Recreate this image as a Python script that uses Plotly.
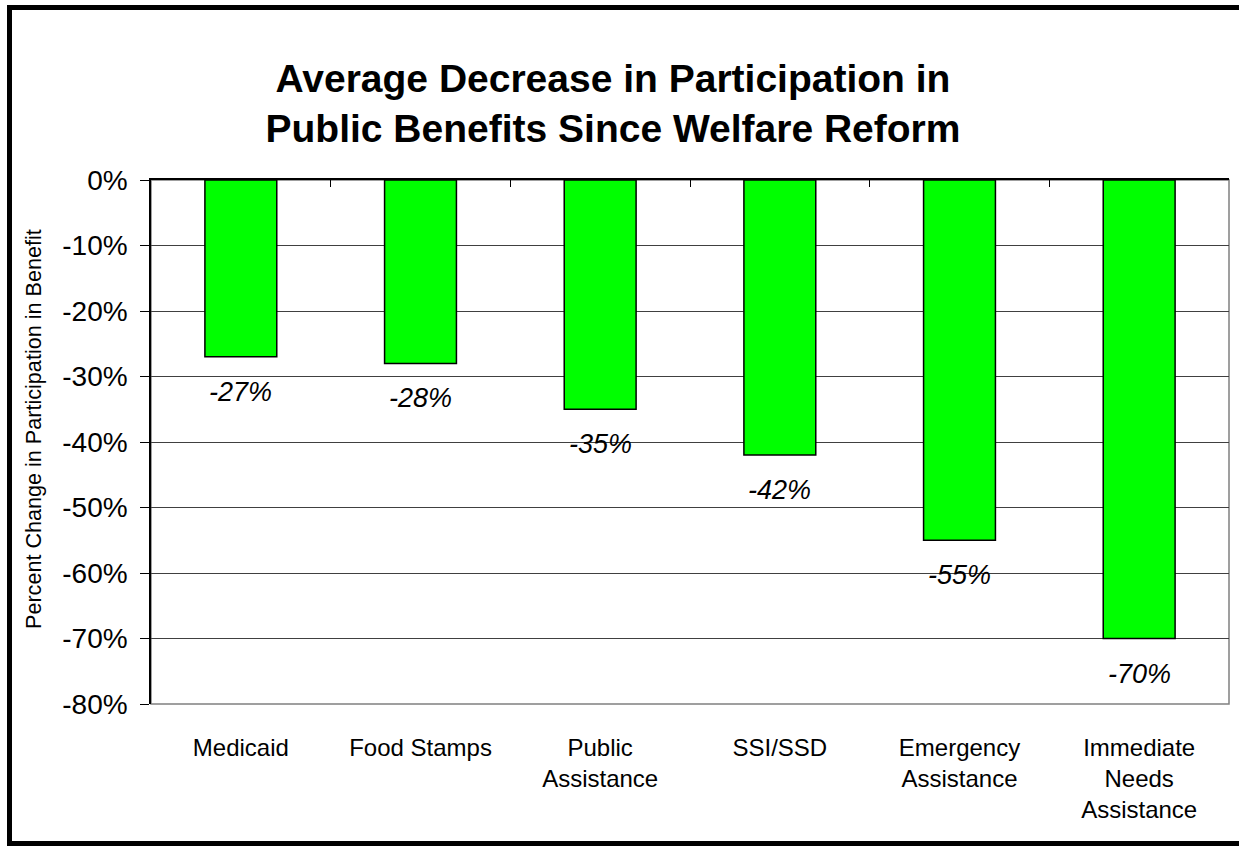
import plotly.graph_objects as go

categories = ["Medicaid", "Food Stamps", "Public<br>Assistance", "SSI/SSD",
              "Emergency<br>Assistance", "Immediate<br>Needs<br>Assistance"]
values = [-27, -28, -35, -42, -55, -70]
labels = ["-27%", "-28%", "-35%", "-42%", "-55%", "-70%"]
y_ticks = [0, -10, -20, -30, -40, -50, -60, -70, -80]

W, H = 1239, 846
L, R, T, B = 151, 10, 180, 142
pw, ph = W - L - R, H - T - B

def px_x(p):
    return (p - L) / pw

def px_y(p):
    return (H - B - p) / ph

FONT = "Arial, 'Liberation Sans', sans-serif"

fig = go.Figure()
fig.add_trace(go.Bar(
    x=categories, y=values, width=0.4,
    marker=dict(color="#00FF00", line=dict(color="black", width=1.5)),
    showlegend=False, hoverinfo="skip",
))
# helper trace so the top axis (category boundary ticks) is drawn
fig.add_trace(go.Scatter(x=[0, 5], y=[0, 0], xaxis="x2", mode="markers",
                         marker=dict(opacity=0), showlegend=False, hoverinfo="skip"))

for c, v, t in zip(categories, values, labels):
    fig.add_annotation(x=c, y=v, text="<i>" + t + "</i>", showarrow=False,
                       yanchor="middle", yshift=-35,
                       font=dict(family=FONT, size=27, color="black"))

fig.add_annotation(xref="paper", yref="paper", x=px_x(33), y=px_y(429),
                   text="Percent Change in Participation in Benefit", textangle=-90,
                   showarrow=False, xanchor="center", yanchor="middle",
                   font=dict(family=FONT, size=21.6, color="black"))

fig.update_layout(
    width=W, height=H,
    margin=dict(l=L, r=R, t=T, b=B, autoexpand=False),
    paper_bgcolor="white", plot_bgcolor="white",
    title=dict(text="<b>Average Decrease in Participation in<br>Public Benefits Since Welfare Reform</b>",
               x=613 / W, xanchor="center", xref="container",
               y=1 - 91.5 / H, yanchor="middle", yref="container",
               font=dict(family=FONT, size=39, color="black")),
    xaxis=dict(type="category", showline=False, ticks="", showgrid=False,
               tickfont=dict(family=FONT, size=24, color="black"),
               ticklabelstandoff=27, range=[-0.5, 5.5]),
    xaxis2=dict(overlaying="x", side="top", anchor="y", range=[-0.5, 5.5],
                tickvals=[0.5, 1.5, 2.5, 3.5, 4.5], ticks="inside", ticklen=7,
                tickcolor="black", tickwidth=1, showline=True, linecolor="black",
                linewidth=1.5, showticklabels=False, showgrid=False, zeroline=False),
    yaxis=dict(range=[-80, 0], tickvals=y_ticks,
               ticktext=[f"{v}%" for v in y_ticks],
               ticks="outside", ticklen=9, tickcolor="black", tickwidth=1,
               showline=True, linecolor="black", linewidth=1.5,
               showgrid=True, gridcolor="#404040", gridwidth=1, zeroline=False,
               tickfont=dict(family=FONT, size=28, color="black"),
               ticklabelstandoff=7),
    shapes=[
        dict(type="rect", xref="paper", yref="paper", x0=0, x1=1, y0=0, y1=1,
             line=dict(color="#808080", width=1.5), layer="below"),
        dict(type="rect", xref="paper", yref="paper",
             x0=px_x(9.5), x1=px_x(1243), y0=px_y(843.5), y1=px_y(7.5),
             line=dict(color="black", width=5)),
    ],
)

fig.write_html("out.html", config={"displayModeBar": False},
               post_script="document.body.style.margin='0px';document.body.style.overflow='hidden';")
